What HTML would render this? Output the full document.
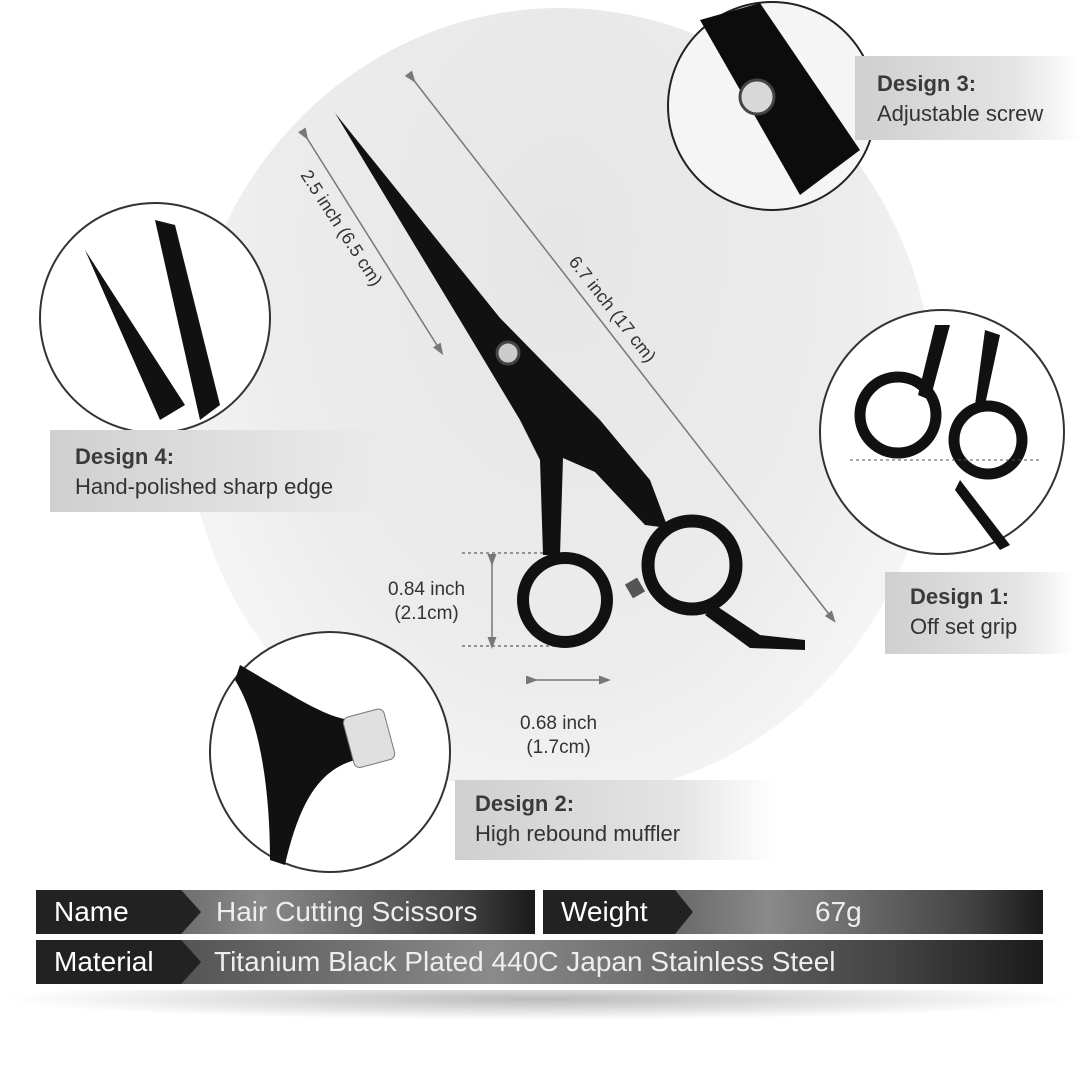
<!DOCTYPE html>
<html><head><meta charset="utf-8"><style>
body{margin:0;width:1080px;height:1080px;background:#fff;position:relative;overflow:hidden;font-family:"Liberation Sans",sans-serif}
.a{position:absolute}
.lbl{position:absolute;background:linear-gradient(90deg,#cfcfcf,#e4e4e4 70%,rgba(240,240,240,0));color:#333;font-size:22px;line-height:30px;padding-left:22px;box-sizing:border-box}
.lbl b{color:#3a3a3a}
.bar{position:absolute;height:44px;background:linear-gradient(90deg,#1a1a1a,#555 15%,#8a8a8a 45%,#444 85%,#1a1a1a);color:#eee;font-size:28px;line-height:44px}
.tag{position:absolute;left:0;top:0;height:44px;background:#222;color:#fff;padding-left:18px;box-sizing:border-box;clip-path:polygon(0 0,88% 0,100% 50%,88% 100%,0 100%)}
</style></head><body>
<div class="a" style="left:185px;top:8px;width:750px;height:790px;border-radius:50%;background:radial-gradient(ellipse at 50% 30%,#e6e6e6,#ececec 55%,#f8f8f8 85%,#fff)"></div>
<svg class="a" style="left:0;top:0" width="1080" height="1080">
<defs><marker id="m" markerWidth="8" markerHeight="8" refX="4" refY="4" orient="auto"><path d="M0,1 L8,4 L0,7z" fill="#777"/></marker></defs>
<g stroke="#777" stroke-width="1.5" fill="none">
<line x1="412" y1="78" x2="832" y2="618" marker-start="url(#m)" marker-end="url(#m)"/>
<line x1="305" y1="135" x2="440" y2="350" marker-start="url(#m)" marker-end="url(#m)"/>
<line x1="492" y1="560" x2="492" y2="643" marker-start="url(#m)" marker-end="url(#m)"/>
<line x1="532" y1="680" x2="605" y2="680" marker-start="url(#m)" marker-end="url(#m)"/>
<line x1="462" y1="553" x2="560" y2="553" stroke-dasharray="3 3"/>
<line x1="462" y1="646" x2="560" y2="646" stroke-dasharray="3 3"/>
</g>
<path d="M335,113 L500,318 L600,420 L650,480 L668,528 L645,525 L595,472 L563,458 L560,555 L543,555 L540,460 L520,420 L475,345 Z" fill="#111"/>
<circle cx="508" cy="353" r="11" fill="#ccc" stroke="#444" stroke-width="3"/>
<circle cx="565" cy="600" r="42" fill="none" stroke="#111" stroke-width="12"/>
<circle cx="692" cy="565" r="44" fill="none" stroke="#111" stroke-width="13"/>
<path d="M715,605 L760,635 L805,640 L805,650 L750,648 L705,615Z" fill="#111"/>
<rect x="628" y="580" width="14" height="16" fill="#555" transform="rotate(-30 635 588)"/>
<circle cx="772" cy="106" r="104" fill="#f5f5f5" stroke="#222" stroke-width="2"/>
<path d="M700,20 L760,3 L860,150 L800,195 Z" fill="#0c0c0c"/>
<circle cx="757" cy="97" r="17" fill="#d8d8d8" stroke="#444" stroke-width="3"/>
<circle cx="155" cy="318" r="115" fill="#fff" stroke="#333" stroke-width="2"/>
<path d="M85,250 L185,405 L160,420 Z" fill="#111"/>
<path d="M155,220 L175,225 L220,405 L200,420 Z" fill="#111"/>
<circle cx="942" cy="432" r="122" fill="#fff" stroke="#333" stroke-width="2"/>
<circle cx="898" cy="415" r="38" fill="none" stroke="#111" stroke-width="11"/>
<circle cx="988" cy="440" r="34" fill="none" stroke="#111" stroke-width="11"/>
<path d="M935,325 L950,325 L930,400 L918,395Z M985,330 L1000,335 L985,405 L975,405Z M960,480 L1010,545 L1000,550 L955,490Z" fill="#111"/>
<line x1="850" y1="460" x2="1040" y2="460" stroke="#555" stroke-dasharray="3 3"/>
<circle cx="330" cy="752" r="120" fill="#fff" stroke="#333" stroke-width="2"/>
<path d="M240,665 C300,700 330,720 355,720 L355,760 C320,770 300,800 285,865 L270,860 C270,790 260,720 235,680Z" fill="#111"/>
<rect x="348" y="712" width="42" height="52" rx="6" fill="#e0e0e0" stroke="#777" transform="rotate(-15 370 738)"/>
<g font-size="18" fill="#333" font-family="Liberation Sans">
<text transform="translate(568,262) rotate(52)">6.7 inch (17 cm)</text>
<text transform="translate(300,175) rotate(57)">2.5 inch (6.5 cm)</text>
</g>
</svg>
<div class="a" style="left:388px;top:578px;font-size:19px;color:#333;line-height:24px;text-align:center">0.84 inch<br>(2.1cm)</div>
<div class="a" style="left:520px;top:712px;font-size:19px;color:#333;line-height:24px;text-align:center">0.68 inch<br>(1.7cm)</div>
<div class="lbl" style="left:855px;top:56px;width:225px;height:84px;padding-top:13px"><b>Design 3:</b><br>Adjustable screw</div>
<div class="lbl" style="left:50px;top:430px;width:340px;height:82px;padding-top:12px;padding-left:25px"><b>Design 4:</b><br>Hand-polished sharp edge</div>
<div class="lbl" style="left:885px;top:572px;width:190px;height:82px;padding-top:10px;padding-left:25px"><b>Design 1:</b><br>Off set grip</div>
<div class="lbl" style="left:455px;top:780px;width:320px;height:80px;padding-top:9px;padding-left:20px"><b>Design 2:</b><br>High rebound muffler</div>
<div class="bar" style="left:36px;top:890px;width:499px"><div class="tag" style="width:165px">Name</div><span class="a" style="left:180px">Hair Cutting Scissors</span></div>
<div class="bar" style="left:543px;top:890px;width:500px"><div class="tag" style="width:150px">Weight</div><span class="a" style="left:272px">67g</span></div>
<div class="bar" style="left:36px;top:940px;width:1007px"><div class="tag" style="width:165px">Material</div><span class="a" style="left:178px">Titanium Black Plated 440C Japan Stainless Steel</span></div>
<div class="a" style="left:0;top:990px;width:1080px;height:30px;background:radial-gradient(ellipse at 50% 30%,#bbb,rgba(255,255,255,0) 70%)"></div>
</body></html>
